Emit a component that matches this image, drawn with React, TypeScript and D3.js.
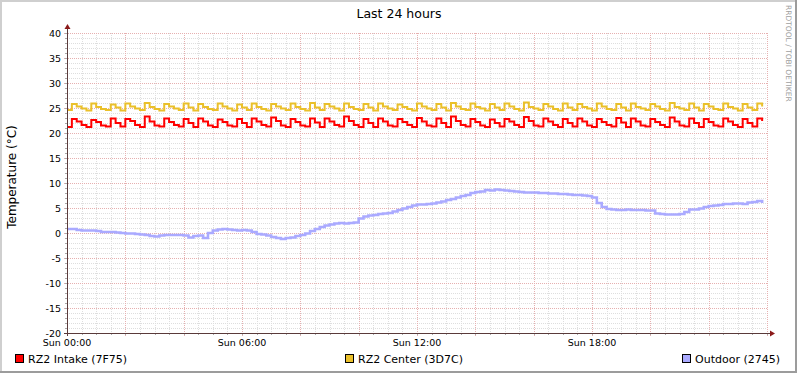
import React from 'react';
import { scaleLinear, line, curveStepAfter, range } from 'd3';

// 10-minute samples over 24 hours
const intake = [
  21.2, 22.8, 22.3, 21.6, 21.2, 22.6, 22.2, 21.5, 21.3, 22.9, 22.0,
  21.3, 22.8, 22.4, 21.6, 21.2, 23.3, 22.3, 21.5, 21.3, 22.9, 22.2, 21.6,
  21.3, 22.8, 22.0, 21.2, 22.9, 22.3, 21.5, 21.2, 22.7, 22.2, 21.5,
  21.3, 22.8, 22.0, 21.2, 22.9, 22.3, 21.6, 21.3, 23.1, 22.4, 21.5,
  21.2, 22.8, 22.2, 21.5, 21.3, 22.9, 22.1, 21.2, 22.9, 22.3, 21.6,
  21.3, 23.3, 22.4, 21.6, 21.2, 22.8, 22.0, 21.2, 22.9, 22.3, 21.5,
  21.3, 22.8, 22.2, 21.6, 21.2, 23.0, 22.3, 21.5, 21.3, 22.9, 22.0,
  21.2, 23.3, 22.4, 21.6, 21.3, 22.8, 22.2, 21.5, 21.2, 22.7, 22.0,
  21.3, 22.8, 22.3, 21.6, 21.2, 23.2, 22.4, 21.5, 21.3, 22.9, 22.3, 21.6,
  21.2, 22.8, 22.0, 21.3, 22.9, 22.3, 21.5, 21.2, 22.8, 22.2, 21.6,
  21.3, 23.0, 22.1, 21.2, 22.9, 22.3, 21.5, 21.3, 22.8, 22.2, 21.6,
  21.2, 23.1, 22.3, 21.5, 21.3, 22.9, 22.0, 21.2, 22.8, 22.2, 21.5,
  21.3, 22.9, 22.3, 21.6, 21.2, 22.8, 22.0, 21.3, 22.9, 22.4,
];

const center = [
  24.6, 25.8, 25.3, 24.9, 24.5, 25.9, 25.2, 24.8, 24.6, 25.7, 25.1,
  24.5, 25.9, 25.3, 24.9, 24.6, 26.0, 25.2, 24.8, 24.5, 25.8, 25.3, 24.9,
  24.6, 25.9, 25.1, 24.5, 25.8, 25.2, 24.8, 24.6, 25.9, 25.3, 24.9,
  24.5, 25.7, 25.1, 24.6, 25.9, 25.2, 24.8, 24.5, 25.8, 25.3, 24.9,
  24.6, 25.9, 25.2, 24.8, 24.5, 26.0, 25.1, 24.6, 25.8, 25.3, 24.9,
  24.5, 25.9, 25.2, 24.8, 24.6, 25.8, 25.1, 24.5, 25.9, 25.3, 24.9,
  24.6, 25.7, 25.2, 24.8, 24.5, 25.9, 25.3, 24.9, 24.6, 25.8, 25.1,
  24.5, 26.0, 25.3, 24.8, 24.6, 25.9, 25.2, 24.9, 24.5, 25.8, 25.1,
  24.6, 25.9, 25.3, 24.8, 24.5, 26.1, 25.2, 24.9, 24.6, 25.8, 25.3, 24.8,
  24.5, 25.9, 25.1, 24.6, 25.8, 25.2, 24.9, 24.5, 25.9, 25.3, 24.8,
  24.6, 25.8, 25.1, 24.5, 25.9, 25.2, 24.9, 24.6, 25.8, 25.3, 24.8,
  24.5, 26.0, 25.2, 24.9, 24.6, 25.9, 25.1, 24.5, 25.8, 25.3, 24.8,
  24.6, 25.9, 25.2, 24.9, 24.5, 25.8, 25.1, 24.6, 25.9, 25.3,
];

const outdoor = [
  0.8, 0.8, 0.6, 0.5, 0.5, 0.5, 0.4, 0.2, 0.2, 0.2,
  0.1, 0.0, -0.1, -0.1, -0.2, -0.3, -0.4, -0.6, -0.7, -0.5,
  -0.4, -0.4, -0.4, -0.4, -0.5, -0.9, -0.6, -0.5, -1.0, 0.0,
  0.5, 0.7, 0.8, 0.7, 0.6, 0.5, 0.6, 0.5, 0.2, -0.2,
  -0.3, -0.5, -0.8, -1.0, -1.2, -1.0, -0.9, -0.6, -0.4, -0.1,
  0.4, 0.8, 1.2, 1.5, 1.7, 1.9, 2.0, 1.9, 2.0, 2.1,
  2.9, 3.3, 3.5, 3.6, 3.8, 3.9, 4.0, 4.3, 4.6, 4.9,
  5.2, 5.5, 5.7, 5.7, 5.8, 5.9, 6.1, 6.3, 6.6, 6.8,
  7.1, 7.4, 7.6, 8.0, 8.2, 8.3, 8.6, 8.5, 8.7, 8.6,
  8.5, 8.4, 8.3, 8.2, 8.1, 8.1, 8.1, 8.0, 8.0, 7.9,
  7.9, 7.8, 7.8, 7.7, 7.6, 7.6, 7.5, 7.4, 7.1, 6.0,
  5.2, 4.8, 4.7, 4.6, 4.6, 4.7, 4.6, 4.6, 4.6, 4.5,
  4.5, 3.9, 3.8, 3.7, 3.7, 3.7, 3.8, 4.2, 4.7, 4.7,
  4.9, 5.2, 5.4, 5.5, 5.6, 5.8, 5.8, 5.9, 5.9, 5.8,
  6.1, 6.2, 6.4, 6.0,
];

const yTicks = [-20, -15, -10, -5, 0, 5, 10, 15, 20, 25, 30, 35, 40];
const xLabels = ['Sun 00:00', 'Sun 06:00', 'Sun 12:00', 'Sun 18:00'];

const series = [
  { name: 'RZ2 Intake (7F75)', values: intake, color: '#ff0000', width: 2 },
  { name: 'RZ2 Center (3D7C)', values: center, color: '#eac02a', width: 2 },
  { name: 'Outdoor (2745)', values: outdoor, color: '#aaaaff', width: 2.6 },
];

const W = 797;
const H = 373;
const font = 'DejaVu Sans, sans-serif';

export default function App() {
  const x = scaleLinear().domain([0, 24 * 60]).range([67, 767]);
  const y = scaleLinear().domain([-20, 40]).range([333, 33]);

  const path = line<number>()
    .x((d, i) => x(i * 10))
    .y(d => y(d))
    .curve(curveStepAfter);

  const minorX = range(0, 24 * 60 + 1, 30);
  const majorX = range(0, 24 * 60 + 1, 120);
  const minorY = range(-20, 41, 1);
  const legendX = [15, 345, 682];

  return (
    <svg
      width={W}
      height={H}
      style={{ position: 'absolute', left: 0, top: 0 }}
      fontFamily={font}
    >
      <rect width={W} height={H} fill="#ffffff" />
      {/* 3d frame */}
      <rect x={0} y={0} width={W} height={2} fill="#cfcfcf" />
      <rect x={0} y={0} width={2} height={H} fill="#cfcfcf" />
      <rect x={W - 2} y={0} width={2} height={H} fill="#9c9c9c" />
      <rect x={0} y={H - 2} width={W} height={2} fill="#9c9c9c" />

      <text x={399} y={18} textAnchor="middle" fontSize={12.5} fill="#000">
        Last 24 hours
      </text>

      {/* minor grid */}
      {minorY.filter(v => v % 5 !== 0).map(v => (
        <line key={'my' + v} x1={67} x2={767} y1={y(v) + 0.5} y2={y(v) + 0.5}
          stroke="#dedede" strokeDasharray="1,1" />
      ))}
      {minorX.filter(v => v % 120 !== 0).map(v => (
        <line key={'mx' + v} x1={Math.round(x(v)) + 0.5} x2={Math.round(x(v)) + 0.5} y1={33} y2={333}
          stroke="#dedede" strokeDasharray="1,1" />
      ))}
      {/* major grid */}
      {yTicks.map(v => (
        <line key={'gy' + v} x1={64} x2={767} y1={y(v) + 0.5} y2={y(v) + 0.5}
          stroke="#e6b0b0" strokeDasharray="1,1" />
      ))}
      {majorX.map(v => (
        <line key={'gx' + v} x1={Math.round(x(v)) + 0.5} x2={Math.round(x(v)) + 0.5} y1={33} y2={336}
          stroke="#e6b0b0" strokeDasharray="1,1" />
      ))}
      {/* minor ticks on axes */}
      {minorY.map(v => (
        <line key={'ty' + v} x1={65} x2={67} y1={y(v) + 0.5} y2={y(v) + 0.5} stroke="#aaa" />
      ))}
      {minorX.map(v => (
        <line key={'tx' + v} x1={Math.round(x(v)) + 0.5} x2={Math.round(x(v)) + 0.5} y1={333} y2={335} stroke="#aaa" />
      ))}

      {/* y labels */}
      {yTicks.map(v => (
        <text key={'ly' + v} x={61} y={y(v) + 3.5} textAnchor="end" fontSize={9.5} fill="#000">
          {v}
        </text>
      ))}
      {/* x labels */}
      {xLabels.map((t, i) => (
        <text key={t} x={x(i * 360)} y={345.5} textAnchor="middle" fontSize={9.5} fill="#000">
          {t}
        </text>
      ))}

      <text
        transform={`translate(16,177) rotate(-90)`}
        textAnchor="middle"
        fontSize={12}
        fill="#000"
      >
        Temperature (°C)
      </text>

      <text
        transform={`translate(786,5) rotate(90)`}
        textAnchor="start"
        fontSize={7.5}
        fill="#a0a0a0"
      >
        RRDTOOL / TOBI OETIKER
      </text>

      {/* series */}
      {series.map(s => (
        <path key={s.name} d={path(s.values) || ''} fill="none" stroke={s.color}
          strokeWidth={s.width} />
      ))}

      {/* axes */}
      <line x1={64} x2={770} y1={333.5} y2={333.5} stroke="#5a3a3a" />
      <line x1={67.5} x2={67.5} y1={336} y2={28} stroke="#5a3a3a" />
      <path d="M770,330.5 L775,333.5 L770,336.5 Z" fill="#8b1a1a" />
      <path d="M64.5,29 L67.5,24 L70.5,29 Z" fill="#8b1a1a" />

      {/* legend */}
      {series.map((s, i) => (
        <g key={'lg' + s.name}>
          <rect x={legendX[i] + 0.5} y={354.5} width={8} height={8} fill={s.color} stroke="#000" />
          <text x={legendX[i] + 13} y={362.5} fontSize={11} fill="#000">{s.name}</text>
        </g>
      ))}
    </svg>
  );
}
